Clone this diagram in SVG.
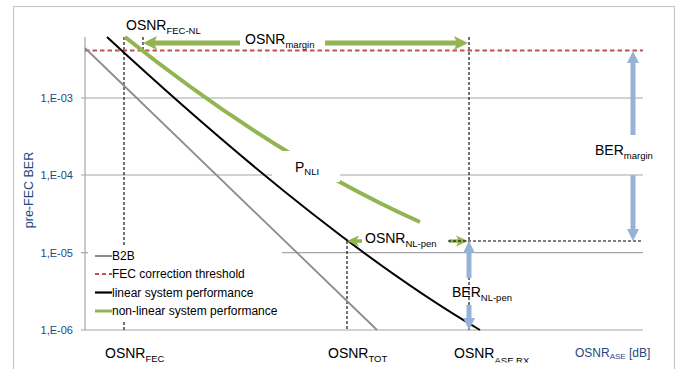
<svg xmlns="http://www.w3.org/2000/svg" width="686" height="369" viewBox="0 0 686 369">
<defs>
<style>
.grid{stroke:#a6a6a6;stroke-width:1.2;fill:none}
.dash{stroke:#000;stroke-width:1.1;stroke-dasharray:3,2;fill:none}
.lbl{font-family:"Liberation Sans",Arial,sans-serif;font-size:14px;fill:#000}
.sub{font-size:9.5px}
.ytick{font-family:"Liberation Sans",Arial,sans-serif;font-size:11px;fill:#1f497d;text-anchor:end}
.leg{font-family:"Liberation Sans",Arial,sans-serif;font-size:12px;fill:#000}
.green{fill:#92b453}
.blue{fill:#95b3d7}
</style>
<clipPath id="clipRx"><rect x="440" y="330" width="120" height="32.5"/></clipPath>
</defs>
<rect x="0" y="0" width="686" height="369" fill="#fff"/>
<rect x="13.5" y="6.5" width="661" height="400" fill="none" stroke="#c8c8c8" stroke-width="1.2"/>

<g id="grid">
<line class="grid" x1="81" y1="98" x2="643" y2="98"/>
<line class="grid" x1="81" y1="175" x2="643" y2="175"/>
<line class="grid" x1="81" y1="252.7" x2="643" y2="252.7"/>
<line class="grid" x1="81" y1="330" x2="643" y2="330"/>
<line class="grid" x1="85" y1="37" x2="85" y2="330"/>
</g>

<g id="yaxis-labels">
<text class="ytick" x="73" y="102">1,E-03</text>
<text class="ytick" x="73" y="179">1,E-04</text>
<text class="ytick" x="73" y="256.5">1,E-05</text>
<text class="ytick" x="73" y="334">1,E-06</text>
<text font-family="Liberation Sans, Arial, sans-serif" font-size="12.5" fill="#1f497d" text-anchor="middle" transform="translate(33,190) rotate(-90)">pre-FEC BER</text>
</g>

<g id="connectors">
<line class="dash" x1="124" y1="37" x2="124" y2="330"/>
<line class="dash" x1="143" y1="37" x2="143" y2="52"/>
<line class="dash" x1="469" y1="37" x2="469" y2="330"/>
<line class="dash" x1="347" y1="241" x2="347" y2="330"/>
<line x1="85" y1="50.5" x2="643" y2="50.5" stroke="#c0504d" stroke-width="2" stroke-dasharray="4.5,3"/>
<line id="b2b" x1="85" y1="48" x2="377" y2="330" stroke="#8c8c8c" stroke-width="1.8"/>
<path id="nonlinear" d="M125,37 C225,117 320,177 420,222" fill="none" stroke="#92b453" stroke-width="4"/>
<rect x="272" y="151" width="68" height="31" fill="#fff"/>
<path id="linear" d="M107,37 C226,147 357,258 480,330" fill="none" stroke="#000" stroke-width="2"/>

<g id="osnr-margin-arrow" class="green">
<rect x="153" y="40.5" width="87" height="5"/>
<polygon points="143,43 157,36 154,43 157,50"/>
<rect x="325" y="40.5" width="133" height="5"/>
<polygon points="468,43 454,36 457,43 454,50"/>
</g>
<g id="osnr-nlpen-arrow" class="green">
<rect x="355" y="239.3" width="7" height="3.5"/>
<polygon points="347,241 359,235.5 356,241 359,246.5"/>
<rect x="449" y="239.3" width="10" height="3.5"/>
<polygon points="468,241 456,235.5 459,241 456,246.5"/>
</g>
<line class="dash" x1="448" y1="241" x2="643" y2="241"/>

<g id="ber-margin-arrow" class="blue">
<polygon points="633,51 639,63 627,63"/>
<rect x="630.5" y="62" width="5" height="73"/>
<rect x="630.5" y="175" width="5" height="55"/>
<polygon points="633,241 639,229 627,229"/>
</g>
<g id="ber-nlpen-arrow" class="blue">
<polygon points="469,241 475,253 463,253"/>
<rect x="466.5" y="252" width="5" height="26"/>
<rect x="466.5" y="305" width="5" height="15"/>
<polygon points="469,330 475,318 463,318"/>
</g>
</g>

<g id="legend">
<rect x="88" y="247" width="194" height="75" fill="#fff"/>
<line x1="95" y1="256" x2="112" y2="256" stroke="#8c8c8c" stroke-width="2"/>
<text class="leg" x="112" y="260">B2B</text>
<line x1="95" y1="274" x2="112" y2="274" stroke="#c0504d" stroke-width="2" stroke-dasharray="4,3"/>
<text class="leg" x="112" y="278">FEC correction threshold</text>
<line x1="95" y1="292.5" x2="112" y2="292.5" stroke="#000" stroke-width="2.2"/>
<text class="leg" x="112" y="296.5">linear system performance</text>
<line x1="95" y1="311" x2="112" y2="311" stroke="#92b453" stroke-width="3"/>
<text class="leg" x="112" y="315">non-linear system performance</text>
</g>

<g id="label-osnr-fec-nl"><text class="lbl" x="126" y="29.5">OSNR<tspan class="sub" dy="4">FEC-NL</tspan></text></g>
<g id="label-osnr-margin"><text class="lbl" x="245" y="44">OSNR<tspan class="sub" font-size="10" dy="4">margin</tspan></text></g>
<g id="label-pnli"><text class="lbl" x="295" y="172">P<tspan class="sub" dy="3">NLI</tspan></text></g>
<g id="label-osnr-nlpen"><text class="lbl" x="365" y="243">OSNR<tspan class="sub" dy="4">NL-pen</tspan></text></g>
<g id="label-ber-margin"><text class="lbl" x="595" y="155">BER<tspan class="sub" font-size="10" dy="4">margin</tspan></text></g>
<g id="label-ber-nlpen"><text class="lbl" x="452" y="297">BER<tspan class="sub" dy="4">NL-pen</tspan></text></g>
<g id="label-osnr-fec"><text class="lbl" x="105" y="358">OSNR<tspan class="sub" dy="4">FEC</tspan></text></g>
<g id="label-osnr-tot"><text class="lbl" x="328" y="358">OSNR<tspan class="sub" dy="4">TOT</tspan></text></g>
<g id="label-osnr-ase-rx"><text class="lbl" x="454" y="358" clip-path="url(#clipRx)">OSNR<tspan class="sub" dy="6">ASE RX</tspan></text></g>
<g id="label-osnr-ase"><text font-family="Liberation Sans, Arial, sans-serif" font-size="12" fill="#1f497d" x="575" y="357">OSNR<tspan font-size="8" dy="2">ASE</tspan><tspan dy="-2"> [dB]</tspan></text></g>
</svg>
